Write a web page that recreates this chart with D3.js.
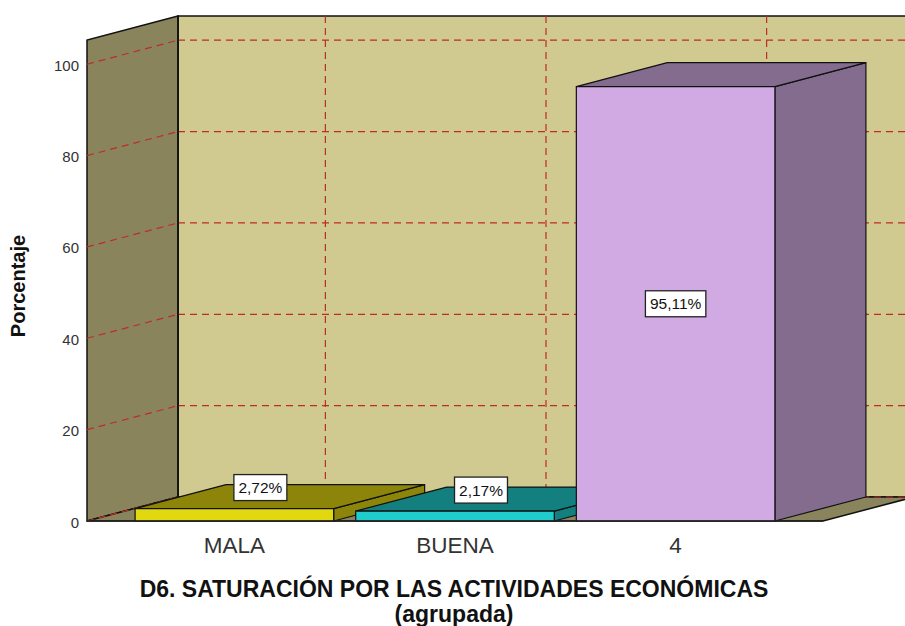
<!DOCTYPE html>
<html><head><meta charset="utf-8">
<script src="https://cdn.jsdelivr.net/npm/d3@7"></script>
<style>body{margin:0;background:#fff}svg{display:block}text{font-family:Arial,"Liberation Sans",sans-serif}</style>
</head><body><svg id="c" width="905" height="626"></svg>
<script>
const categories = ["MALA", "BUENA", "4"];
const values = [2.72, 2.17, 95.11];
const valueLabels = ["2,72%", "2,17%", "95,11%"];
const yTicks = [0, 20, 40, 60, 80, 100];
const frontColors = ["#e2d80f", "#1fcdcd", "#d1aae4"];
const sideColors = ["#8c850a", "#13807f", "#846c8f"];
const yTitle = "Porcentaje";
const xTitle = ["D6. SATURACIÓN POR LAS ACTIVIDADES ECONÓMICAS", "(agrupada)"];

const svg = d3.select("#c");
const dx = 91, dy = -24;
const x = d3.scaleBand().domain(categories).range([87, 823]).paddingInner(0.1).paddingOuter(0.218);
const y = d3.scaleLinear().domain([0, 105.3]).range([521, 40]);
const x0 = x.range()[0], x1 = x.range()[1];
const yb = y(0), yt = y(y.domain()[1]);
const pts = a => a.map(p => p.join(",")).join(" ");
const grid = "#bd2c28";

svg.append("defs").append("clipPath").attr("id", "cl").append("rect").attr("width", 905).attr("height", 626);
const g = svg.append("g").attr("clip-path", "url(#cl)");

// back wall
g.append("polygon").attr("points", pts([[x0+dx, yb+dy], [x1+dx, yb+dy], [x1+dx, yt+dy], [x0+dx, yt+dy]]))
  .attr("fill", "#d0ca90").attr("stroke", "#111").attr("stroke-width", 1.5);
// left wall
g.append("polygon").attr("points", pts([[x0, yb], [x0, yt], [x0+dx, yt+dy], [x0+dx, yb+dy]]))
  .attr("fill", "#8a845c").attr("stroke", "#111").attr("stroke-width", 1.5);
// floor
g.append("polygon").attr("points", pts([[x0, yb], [x1, yb], [x1+dx, yb+dy], [x0+dx, yb+dy]]))
  .attr("fill", "#8a845c").attr("stroke", "#111").attr("stroke-width", 1.5);

// gridlines
yTicks.forEach(t => {
  g.append("line").attr("x1", x0+dx).attr("x2", x1+dx).attr("y1", y(t)+dy).attr("y2", y(t)+dy)
    .attr("stroke", grid).attr("stroke-width", 1.2).attr("stroke-dasharray", "7,5");
  g.append("line").attr("x1", x0).attr("x2", x0+dx).attr("y1", y(t)).attr("y2", y(t)+dy)
    .attr("stroke", grid).attr("stroke-width", 1.2).attr("stroke-dasharray", "7,5");
});
categories.forEach(c => {
  const cx = x(c) + x.bandwidth()/2 + dx;
  g.append("line").attr("x1", cx).attr("x2", cx).attr("y1", yt+dy).attr("y2", yb+dy)
    .attr("stroke", grid).attr("stroke-width", 1.2).attr("stroke-dasharray", "7,5");
});
g.append("line").attr("x1", x0+dx).attr("x2", x0+dx).attr("y1", yt+dy).attr("y2", yb+dy).attr("stroke", "#111").attr("stroke-width", 1.5);

// bars
categories.forEach((c, i) => {
  const bx = x(c), bw = x.bandwidth(), ty = y(values[i]);
  const bg = g.append("g").attr("stroke", "#111").attr("stroke-width", 1.2).attr("stroke-linejoin", "round");
  bg.append("polygon").attr("points", pts([[bx+bw, yb], [bx+bw, ty], [bx+bw+dx, ty+dy], [bx+bw+dx, yb+dy]])).attr("fill", sideColors[i]);
  bg.append("polygon").attr("points", pts([[bx, ty], [bx+bw, ty], [bx+bw+dx, ty+dy], [bx+dx, ty+dy]])).attr("fill", sideColors[i]);
  bg.append("rect").attr("x", bx).attr("y", ty).attr("width", bw).attr("height", yb-ty).attr("fill", frontColors[i]);
});
g.append("line").attr("x1", x0).attr("x2", x1).attr("y1", yb).attr("y2", yb).attr("stroke", "#222").attr("stroke-width", 1.5);

// value labels
categories.forEach((c, i) => {
  const bx = x(c), bw = x.bandwidth(), ty = y(values[i]);
  const boxH = 26;
  let cx, cy;
  if (yb - ty > 3*boxH) { cx = bx + bw/2; cy = (ty + yb)/2; }
  else { cx = bx + bw/2 + 26; cy = ty - boxH/2 - 8; }
  const lg = svg.append("g");
  const t = lg.append("text").attr("x", cx).attr("y", cy).attr("text-anchor", "middle").attr("dominant-baseline", "central")
    .attr("font-size", 15.5).attr("fill", "#111").text(valueLabels[i]);
  const w = t.node().getComputedTextLength() + 9;
  lg.insert("rect", "text").attr("x", cx - w/2).attr("y", cy - boxH/2).attr("width", w).attr("height", boxH)
    .attr("fill", "#fff").attr("stroke", "#222").attr("stroke-width", 1.3);
});

// y tick labels
yTicks.forEach(t => {
  svg.append("text").attr("x", 79).attr("y", y(t) + 1).attr("text-anchor", "end").attr("dominant-baseline", "central")
    .attr("font-size", 15).attr("fill", "#333").text(t);
});
svg.append("text").attr("transform", "translate(25,286) rotate(-90)").attr("text-anchor", "middle")
  .attr("font-size", 20).attr("font-weight", "bold").attr("fill", "#111").text(yTitle);

// x labels
categories.forEach(c => {
  svg.append("text").attr("x", x(c) + x.bandwidth()/2).attr("y", 553).attr("text-anchor", "middle")
    .attr("font-size", 22.5).attr("fill", "#333").text(c);
});
svg.append("text").attr("x", 454).attr("y", 597).attr("text-anchor", "middle").attr("font-size", 23).attr("font-weight", "bold").attr("fill", "#111").text(xTitle[0]);
svg.append("text").attr("x", 454).attr("y", 622).attr("text-anchor", "middle").attr("font-size", 23).attr("font-weight", "bold").attr("fill", "#111").text(xTitle[1]);
</script></body></html>
